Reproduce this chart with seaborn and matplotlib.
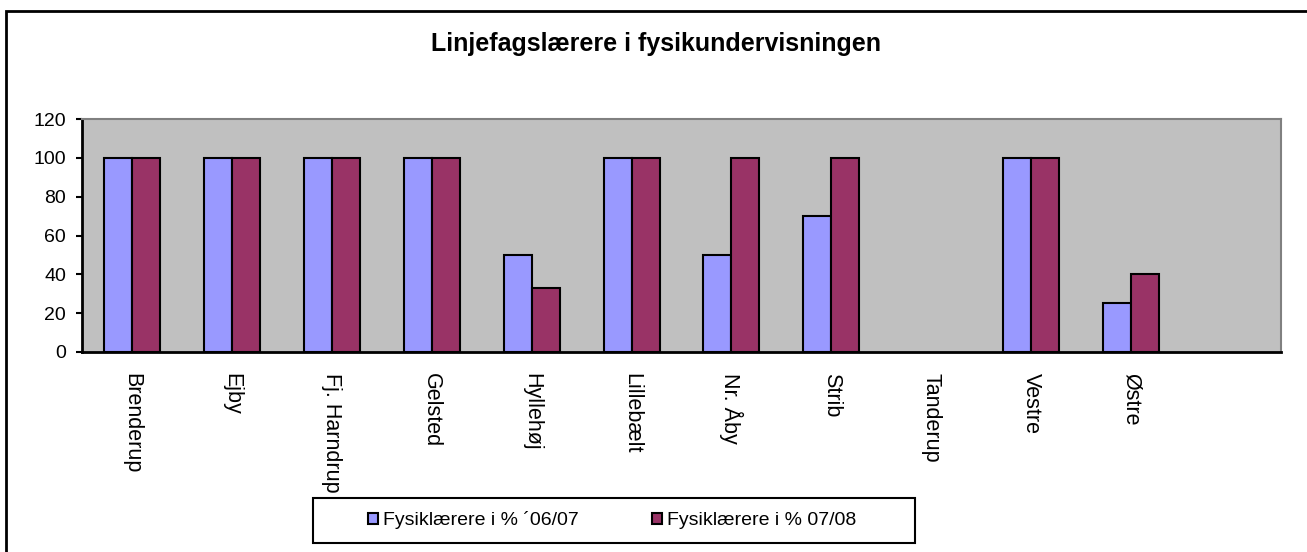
import numpy as np
import pandas as pd
import seaborn as sns
import matplotlib.pyplot as plt
from matplotlib.patches import Rectangle

# data
schools = ["Brenderup", "Ejby", "Fj. Harndrup", "Gelsted", "Hyllehøj", "Lillebælt",
           "Nr. Åby", "Strib", "Tanderup", "Vestre", "Østre"]
pct_0607 = [100, 100, 100, 100, 50, 100, 50, 70, np.nan, 100, 25]
pct_0708 = [100, 100, 100, 100, 33, 100, 100, 100, np.nan, 100, 40]
series = ["Fysiklærere i % ´06/07", "Fysiklærere i % 07/08"]
slots = schools + [""]          # the original has one empty category at the end
y_ticks = [0, 20, 40, 60, 80, 100, 120]

df = pd.DataFrame({"skole": schools, series[0]: pct_0607, series[1]: pct_0708})
df = df.melt(id_vars="skole", var_name="periode", value_name="pct")

sns.set_style("white")
plt.rcParams["font.family"] = ["Liberation Sans", "DejaVu Sans"]
plt.rcParams["text.color"] = "black"
plt.rcParams["xtick.color"] = "black"
plt.rcParams["ytick.color"] = "black"

W, H = 1307, 552
fig = plt.figure(figsize=(W / 100, H / 100), dpi=100)

# outer chart frame (cut off at right and bottom in the original)
fig.patches.append(Rectangle((6 / W, -0.2), 1.2, 1.2 - 11 / H, transform=fig.transFigure,
                             fill=False, edgecolor="black", linewidth=2))

ax = fig.add_axes([82 / W, (H - 352) / H, (1281 - 82) / W, (352 - 119) / H])
ax.set_facecolor("#c0c0c0")

sns.barplot(data=df, x="skole", y="pct", hue="periode", order=slots, hue_order=series,
            palette=["#9999ff", "#993366"], saturation=1, width=0.56, edgecolor="black",
            linewidth=1.5, ax=ax)

handles, labels = ax.get_legend_handles_labels()
ax.get_legend().remove()

ax.set_xlim(-0.5, len(slots) - 0.5)
ax.set_ylim(0, 120)
ax.set_yticks(y_ticks)
ax.set_xlabel("")
ax.set_ylabel("")

ax.set_xticks(range(len(slots)))
ax.set_xticklabels(slots, rotation=270, va="top", ha="center")
ax.set_xticks(np.arange(-0.5, len(slots), 1), minor=True)
ax.tick_params(axis="x", which="major", length=0, pad=15, labelsize=15.5)
ax.tick_params(axis="x", which="minor", length=4, width=1.5, direction="out")
ax.tick_params(axis="y", length=4.5, width=1.5, direction="out", pad=7, labelsize=14,
               left=True)

for side in ["left", "bottom"]:
    ax.spines[side].set_color("black")
    ax.spines[side].set_linewidth(2)
for side in ["top", "right"]:
    ax.spines[side].set_color("#808080")
    ax.spines[side].set_linewidth(1.5)

fig.text(656 / W, 1 - 44 / H, "Linjefagslærere i fysikundervisningen",
         ha="center", va="center", fontsize=18, fontweight="bold")

# legend box
fig.patches.append(Rectangle((313 / W, 1 - 543 / H), (915 - 313) / W, 45 / H,
                             transform=fig.transFigure, fill=True, facecolor="white",
                             edgecolor="black", linewidth=1.5, zorder=5))
leg = fig.legend(handles, labels, ncol=2, loc="center", bbox_to_anchor=(612 / W, 1 - 520 / H),
                 frameon=False, fontsize=14, handlelength=0.5, handleheight=0.5,
                 handletextpad=0.25, columnspacing=3.8)
leg.set_zorder(6)

fig.savefig("out.png", dpi=100)
